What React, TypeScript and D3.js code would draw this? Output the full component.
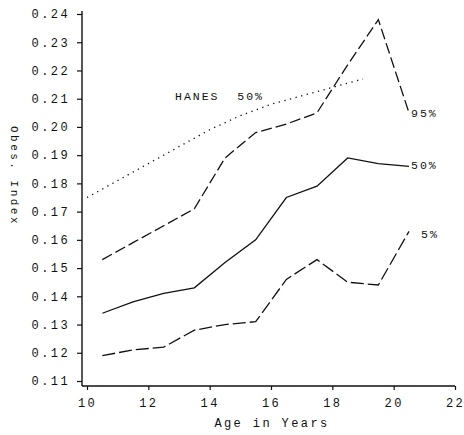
import React, {useEffect, useRef} from 'react';
import {select, scaleLinear, line, axisLeft, axisBottom} from 'd3';

// ages at which the percentiles were computed
const ages = [10.5, 11.5, 12.5, 13.5, 14.5, 15.5, 16.5, 17.5, 18.5, 19.5, 20.5];
const p95 = [0.153, 0.159, 0.165, 0.171, 0.189, 0.198, 0.201, 0.205, 0.222, 0.238, 0.205];
const p50 = [0.134, 0.138, 0.141, 0.143, 0.152, 0.160, 0.175, 0.179, 0.189, 0.187, 0.186];
const p05 = [0.119, 0.121, 0.122, 0.128, 0.130, 0.131, 0.146, 0.153, 0.145, 0.144, 0.163];

const hanesAges = [10, 11, 12, 13, 14, 15, 16, 17, 18, 19];
const hanes50 = [0.175, 0.181, 0.187, 0.193, 0.199, 0.204, 0.208, 0.211, 0.214, 0.217];

const xTicks = [10, 12, 14, 16, 18, 20, 22];
const yTicks = [0.11, 0.12, 0.13, 0.14, 0.15, 0.16, 0.17, 0.18, 0.19, 0.20, 0.21, 0.22, 0.23, 0.24];

const mono = '"Liberation Mono", "DejaVu Sans Mono", monospace';
const ink = '#111';

export default function App() {
    const ref = useRef<SVGSVGElement>(null);

    useEffect(() => {
        const svg = select(ref.current);
        svg.selectAll('*').remove();

        const x = scaleLinear().domain([10, 22]).range([87, 455]);
        const y = scaleLinear().domain([0.11, 0.24]).range([381, 14]);

        //axis lines
        svg.append('line').attr('x1', 82).attr('x2', 82).attr('y1', 11).attr('y2', 386)
            .attr('stroke', ink).attr('stroke-width', 1.4);
        svg.append('line').attr('x1', 82).attr('x2', x(22)).attr('y1', 386).attr('y2', 386)
            .attr('stroke', ink).attr('stroke-width', 1.4);

        //y ticks
        const gy = svg.append('g').attr('transform', 'translate(82,0)')
            .call(axisLeft(y).tickValues(yTicks).tickSize(5).tickPadding(7).tickFormat(d => (+d).toFixed(2)));
        gy.select('.domain').remove();
        gy.selectAll('line').attr('stroke', ink).attr('stroke-width', 1.2);
        gy.selectAll('text').attr('font-family', mono).attr('font-size', 12)
            .attr('letter-spacing', 2.4).attr('fill', ink);

        //x ticks
        const gx = svg.append('g').attr('transform', 'translate(0,386)')
            .call(axisBottom(x).tickValues(xTicks).tickSize(4).tickPadding(8).tickFormat(d => String(d)));
        gx.select('.domain').remove();
        gx.selectAll('line').attr('stroke', ink).attr('stroke-width', 1.2);
        gx.selectAll('text').attr('font-family', mono).attr('font-size', 12)
            .attr('letter-spacing', 2.4).attr('fill', ink);

        //axis titles
        svg.append('text').attr('x', 272).attr('y', 427).attr('text-anchor', 'middle')
            .attr('font-family', mono).attr('font-size', 12).attr('letter-spacing', 2.4)
            .attr('fill', ink).text('Age in Years');
        svg.append('text').attr('transform', 'translate(11,176) rotate(90)').attr('text-anchor', 'middle')
            .attr('font-family', mono).attr('font-size', 11).attr('letter-spacing', 2.5)
            .attr('fill', ink).text('Obes. Index');

        const path = line<number>().x((d, i) => x(ages[i])).y(d => y(d));

        svg.append('path').datum(p95).attr('d', path).attr('fill', 'none')
            .attr('stroke', ink).attr('stroke-width', 1.3).attr('stroke-dasharray', '11,4');
        svg.append('path').datum(p50).attr('d', path).attr('fill', 'none')
            .attr('stroke', ink).attr('stroke-width', 1.3);
        svg.append('path').datum(p05).attr('d', path).attr('fill', 'none')
            .attr('stroke', ink).attr('stroke-width', 1.3).attr('stroke-dasharray', '13,4');

        const hanesPath = line<number>().x((d, i) => x(hanesAges[i])).y(d => y(d));
        svg.append('path').datum(hanes50).attr('d', hanesPath).attr('fill', 'none')
            .attr('stroke', ink).attr('stroke-width', 1.3).attr('stroke-dasharray', '1.3,4.5');

        //curve labels
        const labels = [
            {t: 'HANES  50%', x: 175, y: y(0.2095)},
            {t: '95%', x: 411, y: y(0.2035)},
            {t: '50%', x: 411, y: y(0.1852)},
            {t: '5%', x: 421, y: y(0.1605)},
        ];
        svg.selectAll('text.lbl').data(labels).enter().append('text').attr('class', 'lbl')
            .attr('x', d => d.x).attr('y', d => d.y)
            .attr('font-family', mono).attr('font-size', 11.5).attr('letter-spacing', 2)
            .attr('fill', ink).attr('xml:space', 'preserve').style('white-space', 'pre').text(d => d.t);
    }, []);

    return (
        <svg ref={ref} width={464} height={435} style={{position: 'absolute', left: 0, top: 0, background: '#fff'}} />
    );
}
